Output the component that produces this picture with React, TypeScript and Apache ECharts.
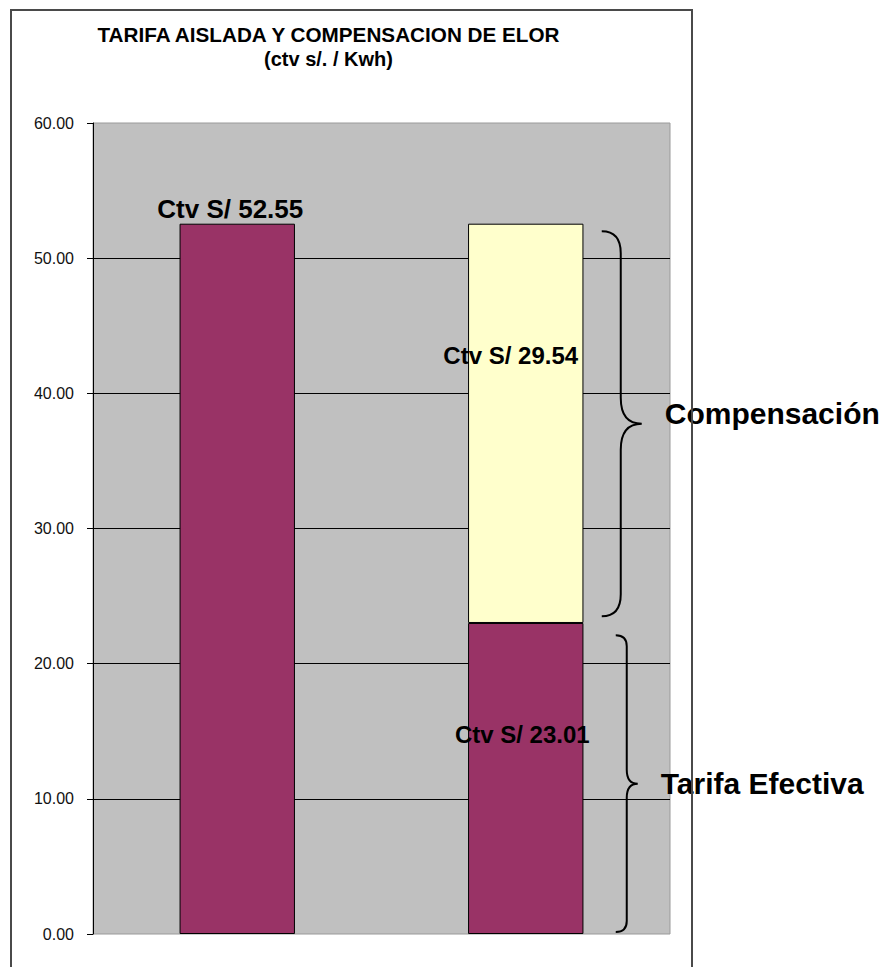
import React, { useEffect, useRef } from 'react';
import * as echarts from 'echarts';

const categories = ['Tarifa Aislada', 'Tarifa con Compensación'];
const tarifaValues = [52.55, 23.01];
const compensacionValues: (number | null)[] = [null, 29.54];
const yMin = 0;
const yMax = 60;
const yInterval = 10;
const braceRanges = [
  [23.5, 52.0],
  [0.15, 22.1],
];
const braceLabels = ['Compensación', 'Tarifa Efectiva'];
const titleText = 'TARIFA AISLADA Y COMPENSACION DE ELOR';
const subtitleText = '(ctv s/. / Kwh)';
const labelPrefix = 'Ctv S/ ';

const FONT = '"Liberation Sans", Arial, Helvetica, sans-serif';

// layout / style of annotation braces (not data)
const braceStyles = [
  { dx: 76, w1: 19, w: 40, r: 22, rm: 26, textDx: 23, textDy: -10, fontSize: 30 },
  { dx: 90, w1: 11, w: 22, r: 11, rm: 14, textDx: 23, textDy: 0, fontSize: 30 },
];

const tarifaLabelStyles = [
  { position: 'top', distance: 2, offset: [-7, 0], fontSize: 26 },
  { position: ['47%', '36%'], align: 'center', verticalAlign: 'middle' },
];
const compLabelStyles = [
  {},
  { position: ['37%', '33%'], align: 'center', verticalAlign: 'middle' },
];

export default function App() {
  const ref = useRef<HTMLDivElement>(null);

  useEffect(() => {
    if (!ref.current) return;
    const chart = echarts.init(ref.current, undefined, { renderer: 'svg' });

    const labelBase = {
      show: true,
      color: '#000',
      fontFamily: FONT,
      fontWeight: 'bold',
      fontSize: 24,
      formatter: (p: any) => labelPrefix + Number(p.value).toFixed(2),
    };

    const option: any = {
      animation: false,
      backgroundColor: '#ffffff',
      title: {
        text: titleText,
        subtext: subtitleText,
        left: 323.5,
        top: 19,
        textAlign: 'center',
        itemGap: 4,
        textStyle: { fontFamily: FONT, fontSize: 20.7, fontWeight: 'bold', color: '#000' },
        subtextStyle: { fontFamily: FONT, fontSize: 20, fontWeight: 'bold', color: '#000' },
      },
      grid: {
        left: 93,
        top: 123,
        right: 216,
        bottom: 33,
        show: true,
        backgroundColor: '#c0c0c0',
        borderColor: '#9a9a9a',
        borderWidth: 1,
        containLabel: false,
      },
      xAxis: {
        type: 'category',
        data: categories,
        axisLine: { show: false },
        axisTick: { show: false },
        axisLabel: { show: false },
        splitLine: { show: false },
      },
      yAxis: {
        type: 'value',
        min: yMin,
        max: yMax,
        interval: yInterval,
        axisLine: { show: true, lineStyle: { color: '#000', width: 1 } },
        axisTick: { show: true, inside: false, length: 6, lineStyle: { color: '#000' } },
        axisLabel: {
          margin: 19,
          color: '#111',
          fontFamily: FONT,
          fontSize: 16,
          formatter: (v: number) => v.toFixed(2),
        },
        splitLine: {
          show: true,
          showMinLine: false,
          showMaxLine: false,
          lineStyle: { color: '#000', width: 1 },
        },
      },
      series: [
        {
          name: 'Tarifa',
          type: 'bar',
          stack: 'total',
          barWidth: '40%',
          itemStyle: { color: '#993366', borderColor: '#000', borderWidth: 1 },
          data: tarifaValues.map((v, i) => ({
            value: v,
            label: { ...labelBase, ...tarifaLabelStyles[i] },
          })),
          z: 3,
        },
        {
          name: 'Compensación',
          type: 'bar',
          stack: 'total',
          barWidth: '40%',
          itemStyle: { color: '#ffffcc', borderColor: '#000', borderWidth: 1 },
          data: compensacionValues.map((v, i) =>
            v == null ? null : { value: v, label: { ...labelBase, ...compLabelStyles[i] } }
          ),
          z: 3,
        },
        {
          name: 'Llaves',
          type: 'custom',
          silent: true,
          clip: false,
          z: 5,
          data: braceRanges.map((r) => [1, r[0], r[1]]),
          renderItem: (params: any, api: any) => {
            const i = params.dataIndex;
            const st = braceStyles[i];
            const topPt = api.coord([api.value(0), api.value(2)]);
            const botPt = api.coord([api.value(0), api.value(1)]);
            const x0 = topPt[0] + st.dx;
            const xv = x0 + st.w1;
            const xt = x0 + st.w;
            const yt = topPt[1];
            const yb = botPt[1];
            const ym = (yt + yb) / 2;
            const d = [
              `M ${x0} ${yt}`,
              `Q ${xv} ${yt} ${xv} ${yt + st.r}`,
              `L ${xv} ${ym - st.rm}`,
              `Q ${xv} ${ym} ${xt} ${ym}`,
              `Q ${xv} ${ym} ${xv} ${ym + st.rm}`,
              `L ${xv} ${yb - st.r}`,
              `Q ${xv} ${yb} ${x0} ${yb}`,
            ].join(' ');
            return {
              type: 'group',
              children: [
                {
                  type: 'path',
                  shape: { pathData: d },
                  style: { fill: 'none', stroke: '#000', lineWidth: 2 },
                },
                {
                  type: 'text',
                  style: {
                    text: braceLabels[i],
                    x: xt + st.textDx,
                    y: ym + st.textDy,
                    fill: '#000',
                    fontFamily: FONT,
                    fontWeight: 'bold',
                    fontSize: st.fontSize,
                    align: 'left',
                    verticalAlign: 'middle',
                  },
                },
              ],
            };
          },
        },
      ],
      graphic: {
        elements: [
          {
            type: 'rect',
            z: 100,
            silent: true,
            shape: { x: 11, y: 10, width: 681, height: 1000 },
            style: { fill: 'none', stroke: '#4a4a4a', lineWidth: 2 },
          },
        ],
      },
    };

    chart.setOption(option);
    return () => chart.dispose();
  }, []);

  return (
    <div
      ref={ref}
      style={{ position: 'fixed', left: 0, top: 0, width: 886, height: 967, background: '#fff' }}
    />
  );
}
